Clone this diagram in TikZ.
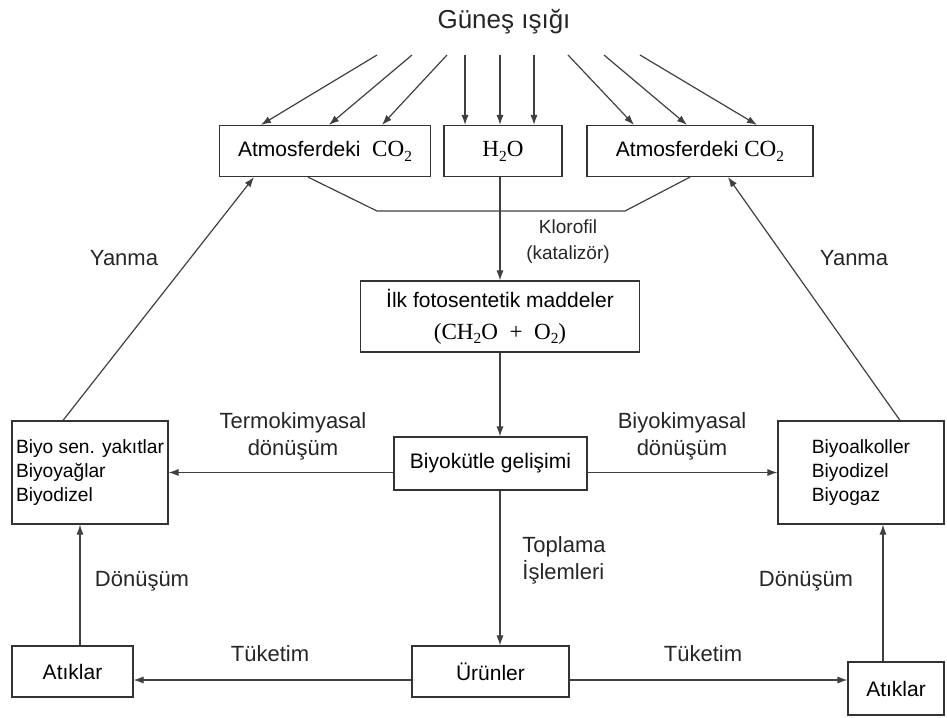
\documentclass[tikz,border=0pt]{standalone}
\usepackage{fontspec}
\setmainfont{Liberation Sans}
\newfontfamily\chemfont[Scale=1.1]{Liberation Serif}
\usepackage{xcolor}
\usepackage{tikz}
\usetikzlibrary{arrows.meta,positioning}
\newcommand{\lowidx}[1]{\raisebox{-0.45ex}{\scriptsize #1}}

\tikzset{
  boxnode/.style={draw=black!80, line width=0.6pt, inner sep=0pt, align=center, font=\fontsize{10.5}{13}\selectfont},
  listbox/.style={boxnode, align=left, font=\fontsize{9.6}{12}\selectfont},
  lbl/.style={align=center, inner sep=0pt, text=black!85, font=\fontsize{11}{13.5}\selectfont},
  flow/.style={-{Latex[length=5pt,width=3.6pt]}, line width=0.6pt, draw=black!75},
  plain/.style={line width=0.6pt, draw=black!75},
}

\begin{document}
\begin{tikzpicture}[x=0.5pt, y=-0.5pt]
            \useasboundingbox (0,0) rectangle (947,717);

            \node[lbl, font=\fontsize{13}{15}\selectfont] (sun) at (504,22) {Güneş ışığı};

            % Top row
            \node[boxnode, minimum width=105.5pt, minimum height=25.5pt] (co2L) at (325,151) {Atmosferdeki\ \ {\chemfont CO\lowidx{2}}};
            \node[boxnode, minimum width=59pt, minimum height=25.5pt] (h2o) at (503,151) {\chemfont H\lowidx{2}O};
            \node[boxnode, minimum width=113pt, minimum height=25.5pt] (co2R) at (700,151) {Atmosferdeki {\chemfont CO\lowidx{2}}};

            \node[boxnode, minimum width=139.5pt, minimum height=35.5pt] (ilk) at (500,316.5) {İlk fotosentetik maddeler\\[3pt]{\chemfont (CH\lowidx{2}O \ + \ O\lowidx{2})}};

            % Middle row
            \node[boxnode, minimum width=96.5pt, minimum height=26.5pt] (bio) at (490.5,463.5) {Biyokütle gelişimi};
            \node[listbox, minimum width=78pt, minimum height=51.5pt] (thermo) at (90,472.5) {Biyo sen. yakıtlar\\Biyoyağlar\\Biyodizel};
            \node[listbox, minimum width=83pt, minimum height=51.5pt] (biochem) at (861,472.5) {Biyoalkoller\\Biyodizel\\Biyogaz};

            % Bottom row
            \node[boxnode, minimum width=78.5pt, minimum height=25.5pt] (urun) at (490.5,671.5) {Ürünler};
            \node[boxnode, minimum width=60.5pt, minimum height=25.5pt] (atikL) at (72.5,671.5) {Atıklar};
            \node[boxnode, minimum width=48pt, minimum height=26.5pt] (atikR) at (896,688.5) {Atıklar};

            % Sunlight
            \foreach \sx/\ex [count=\i] in {377/261, 412/329, 447/382} {
                \coordinate (rayL\i) at (\sx,55);
                \draw[flow] (rayL\i) -- (\ex,0 |- co2L.north);
            }
            \foreach \sx [count=\i] in {465, 500, 534} {
                \coordinate (rayM\i) at (\sx,55);
                \draw[flow] (rayM\i) -- (rayM\i |- h2o.north);
            }
            \foreach \sx/\ex [count=\i] in {568/634, 604/687, 640/757} {
                \coordinate (rayR\i) at (\sx,55);
                \draw[flow] (rayR\i) -- (\ex,0 |- co2R.north);
            }

            \coordinate (fL) at (377,211);
            \coordinate (fR) at (625,211);
            \draw[plain] (308,0 |- co2L.south) -- (fL) -- (fR) -- (690,0 |- co2R.south);

            \draw[flow] (ilk.north |- h2o.south) -- (ilk.north);
            \draw[flow] (ilk.south) -- (ilk.south |- bio.north);
            \draw[flow] (ilk.south |- bio.south) -- (ilk.south |- urun.north);
            \draw[flow] (bio.west |- thermo.east) -- (thermo.east);
            \draw[flow] (bio.east |- biochem.west) -- (biochem.west);

            \coordinate (urL) at ([yshift=-4.25pt]urun.west);
            \coordinate (urR) at ([yshift=-4.25pt]urun.east);
            \draw[flow] (urL) -- (urL -| atikL.east);
            \draw[flow] (urR) -- (urR -| atikR.west);

            \coordinate (atL) at ([xshift=3.75pt]atikL.north);
            \coordinate (atR) at ([xshift=-6.5pt]atikR.north);
            \draw[flow] (atL) -- (atL |- thermo.south);
            \draw[flow] (atR) -- (atR |- biochem.south);

            \draw[flow] (63,0 |- thermo.north) -- (254,0 |- co2L.south);
            \draw[flow] (900,0 |- biochem.north) -- (728,0 |- co2R.south);

            % Labels
            \node[lbl, font=\fontsize{9.5}{13}\selectfont] (klor) at (568,242) {Klorofil\\(katalizör)};
            \node[lbl] (yanL) at (124,258) {Yanma};
            \node[lbl] (yanR) at (854,258) {Yanma};
            \node[lbl] (termo) at (293,436) {Termokimyasal\\dönüşüm};
            \node[lbl] (biyok) at (682,436) {Biyokimyasal\\dönüşüm};
            \node[lbl, align=left, anchor=west] (topl) at (522,560) {Toplama\\İşlemleri};
            \node[lbl] (donL) at (142,581) {Dönüşüm};
            \node[lbl] (donR) at (806,581) {Dönüşüm};
            \node[lbl] (tukL) at (270,654) {Tüketim};
            \node[lbl] (tukR) at (703,654) {Tüketim};
\end{tikzpicture}
\end{document}
